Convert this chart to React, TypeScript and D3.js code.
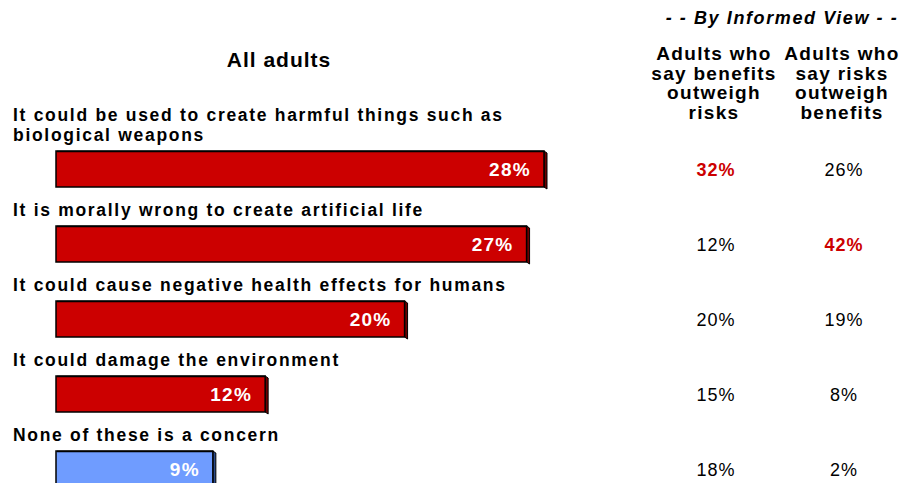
import React from "react";
import * as d3 from "d3";

const categories = [
  "It could be used to create harmful things such as|biological weapons",
  "It is morally wrong to create artificial life",
  "It could cause negative health effects for humans",
  "It could damage the environment",
  "None of these is a concern",
];
const allAdults = [28, 27, 20, 12, 9];
const benefitsOutweigh = [32, 12, 20, 15, 18];
const risksOutweigh = [26, 42, 19, 8, 2];
const highlightBenefits = [true, false, false, false, false];
const highlightRisks = [false, true, false, false, false];
const barKinds = ["concern", "concern", "concern", "concern", "none"];
const colHeader1 = ["Adults who", "say benefits", "outweigh", "risks"];
const colHeader2 = ["Adults who", "say risks", "outweigh", "benefits"];

const W = 905;
const H = 483;
const FONT = "'Liberation Sans', Arial, Helvetica, sans-serif";

export default function App() {
  const x = d3.scaleLinear().domain([0, 28]).range([56, 544]);
  const y = d3.scaleBand<number>().domain(d3.range(categories.length)).range([151, 526]).paddingInner(0).paddingOuter(0);
  const barH = 36;
  const col1 = 716;
  const col2 = 844;
  return (
    <div style={{ position: "absolute", left: 0, top: 0 }}>
      <svg width={W} height={H} style={{ display: "block", fontFamily: FONT }}>
        <rect width={W} height={H} fill="#fff" />
        <text x={279} y={67} textAnchor="middle" fontSize={21} fontWeight="bold" letterSpacing={1} fill="#000">All adults</text>
        <text x={782} y={24} textAnchor="middle" fontSize={18} fontWeight="bold" fontStyle="italic" letterSpacing={1.6} fill="#000">- - By Informed View - -</text>
        {colHeader1.map((t, i) => (
          <text key={"h1" + i} x={col1 - 2} y={60 + i * 19.5} textAnchor="middle" fontSize={19} fontWeight="bold" letterSpacing={1.3} fill="#000">{t}</text>
        ))}
        {colHeader2.map((t, i) => (
          <text key={"h2" + i} x={col2 - 2} y={60 + i * 19.5} textAnchor="middle" fontSize={19} fontWeight="bold" letterSpacing={1.3} fill="#000">{t}</text>
        ))}
        {categories.map((c, i) => {
          const top = y(i)!;
          const lines = c.split("|");
          const x0 = x(0);
          const x1 = x(allAdults[i]);
          const fill = barKinds[i] === "none" ? "#6f9cff" : "#cc0000";
          const side = barKinds[i] === "none" ? "#2a4a8a" : "#6a0000";
          const labelBase = top - 10 - (lines.length - 1) * 19.7;
          return (
            <g key={i}>
              {lines.map((l, j) => (
                <text key={j} x={13} y={labelBase + j * 19.7} fontSize={17.5} fontWeight="bold" letterSpacing={1.7} fill="#000">{l}</text>
              ))}
              <polygon
                points={`${x1},${top} ${x1 + 3},${top + 2} ${x1 + 3},${top + barH + 2} ${x1},${top + barH}`}
                fill={side}
                stroke="#000"
                strokeWidth={1}
              />
              <rect x={x0} y={top} width={x1 - x0} height={barH} fill={fill} stroke="#000" strokeWidth={1.5} />
              <line x1={x0 + 1} x2={x1} y1={top + 0.5} y2={top + 0.5} stroke="#000" strokeWidth={1.5} />
              <text x={x1 - 13} y={top + barH / 2 + 7} textAnchor="end" fontSize={19} fontWeight="bold" letterSpacing={1.3} fill="#fff">{allAdults[i]}%</text>
              <text x={col1} y={top + barH / 2 + 7} textAnchor="middle" fontSize={18} fontWeight={highlightBenefits[i] ? "bold" : "normal"} letterSpacing={1} fill={highlightBenefits[i] ? "#cc0000" : "#000"}>{benefitsOutweigh[i]}%</text>
              <text x={col2} y={top + barH / 2 + 7} textAnchor="middle" fontSize={18} fontWeight={highlightRisks[i] ? "bold" : "normal"} letterSpacing={1} fill={highlightRisks[i] ? "#cc0000" : "#000"}>{risksOutweigh[i]}%</text>
            </g>
          );
        })}
      </svg>
    </div>
  );
}
